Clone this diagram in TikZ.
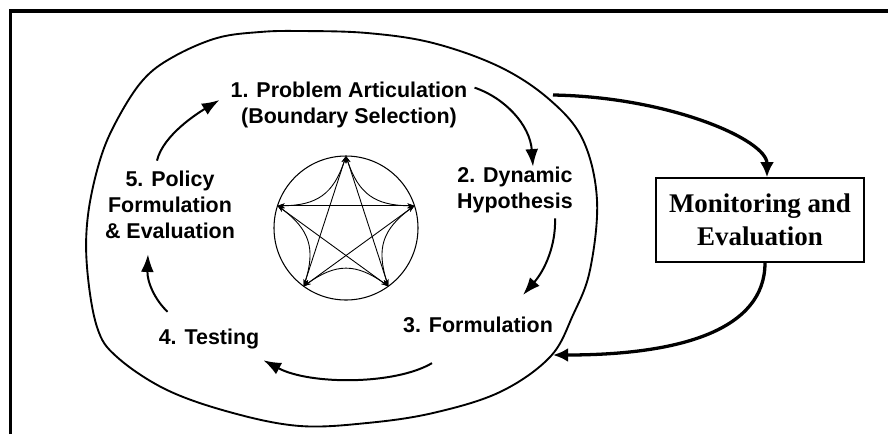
\documentclass[tikz,border=0pt]{standalone}
\usepackage{fontspec}
\setmainfont{Liberation Serif}
\setsansfont{Liberation Sans}
\usetikzlibrary{arrows.meta,calc}

\begin{document}
\begin{tikzpicture}[x=0.03cm,y=-0.03cm,
  etape/.style={font=\sffamily\bfseries\fontsize{18.3}{22.4}\selectfont,align=center,inner sep=0pt},
  cycle/.style={line width=1.7pt,-{Latex[length=15pt,width=11pt]}},
  retour/.style={line width=2.8pt,-{Latex[length=13pt,width=12pt]}},
  etoile/.style={line width=0.75pt,{Stealth[length=6pt,width=4pt]}-{Stealth[length=6pt,width=4pt]}}]
\useasboundingbox (0,0) rectangle (888,434);
\draw [line width=3.4pt] (10.5,434) -- (10.5,11) -- (888,11);
% contour
\draw [line width=1.6pt] plot [smooth cycle,tension=0.6] coordinates {(300,31) (367,33) (433,43) (500,67) (550,100) (583,140) (597,200) (590,270) (573,315) (550,357) (500,392) (433,413) (367,423) (300,426) (233,413) (167,390) (117,357) (97,327) (87,267) (88,215) (100,160) (117,120) (143,80) (173,57) (217,38) (260,32)};
% cercle central
\coordinate (ctr) at (346,228);
\draw [line width=0.9pt] (ctr) circle (2.16cm);
\foreach \i in {0,...,4}
  \coordinate (v\i) at ($(ctr)+(270+72*\i:72)$);
\foreach \i/\j/\k in {0/1/2,1/2/3,2/3/4,3/4/0,4/0/1}{
  \draw [etoile] (v\i) -- (v\k);
  \draw [etoile] (v\i) .. controls ($(v\i)!0.3!(v\j)!0.4!(ctr)$) and ($(v\i)!0.7!(v\j)!0.4!(ctr)$) .. (v\j);
}
% etapes
\node [etape] (probleme) at (349,105) {1. Problem Articulation\\(Boundary Selection)};
\node [etape] (hypothese) at (515,190) {2. Dynamic\\Hypothesis};
\node [etape] (formulation) at (478,325) {3. Formulation};
\node [etape] (test) at (209,339) {4. Testing};
\node [etape] (politique) at (170,205) {5. Policy\\Formulation\\\& Evaluation};
\node [draw,line width=1.3pt,minimum width=6.24cm,minimum height=2.52cm,align=center,
  font=\bfseries\fontsize{23}{28}\selectfont] (suivi) at (760,220) {Monitoring and\\Evaluation};
% fleches du cycle
\draw [cycle] ([shift={(-13,-10)}]politique.north) .. controls (163,135) and (198,113) .. ([shift={(-11,-5)}]probleme.west);
\draw [cycle] ([shift={(7,6)}]probleme.north east) .. controls (505,98) and (530,125) .. ([shift={(18,0)}]hypothese.north);
\draw [cycle] ([shift={(-18,5)}]hypothese.south east) .. controls (556,245) and (545,270) .. ([shift={(-30,-22)}]formulation.north east);
\draw [cycle] ([shift={(-46,30)}]formulation.south) .. controls (395,385) and (310,385) .. ([shift={(4,11)}]test.south east);
\draw [cycle] ([shift={(9,-17)}]test.north west) .. controls (155,300) and (147,282) .. ([shift={(-22,15)}]politique.south);
% suivi
\coordinate (sortie) at (553,95);
\coordinate (entree) at (553,355);
\draw [retour] (sortie) .. controls (670,97) and (767,140) .. ([shift={(7,0)}]suivi.north);
\draw [retour] ([shift={(5,0)}]suivi.south) .. controls (765,330) and (680,355) .. (entree);
\end{tikzpicture}
\end{document}
